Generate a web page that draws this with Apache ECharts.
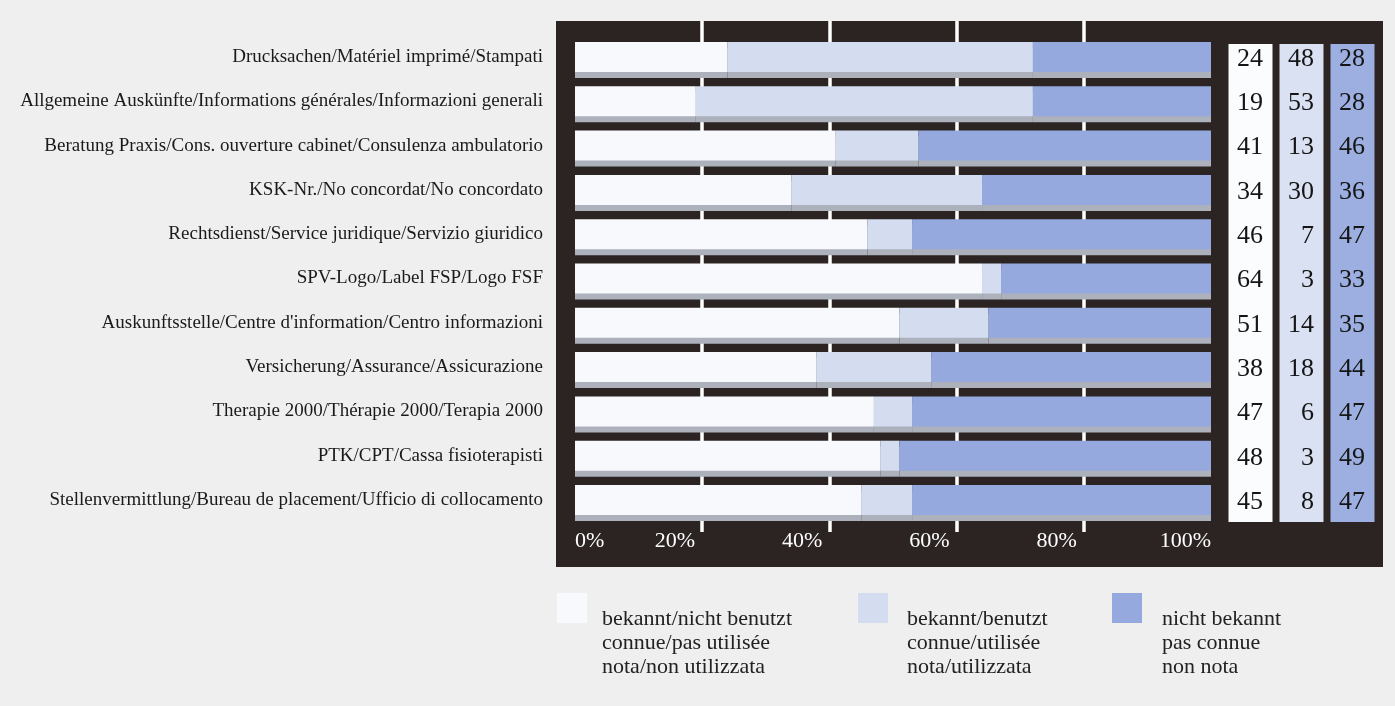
<!DOCTYPE html>
<html>
<head>
<meta charset="utf-8">
<script src="https://cdn.jsdelivr.net/npm/echarts@6/dist/echarts.min.js"></script>
<style>
html,body{margin:0;padding:0;background:#efefef;}
#chart{width:1395px;height:706px;}
</style>
</head>
<body>
<div id="chart"></div>
<script>
const categories = [
  'Drucksachen/Matériel imprimé/Stampati',
  'Allgemeine Auskünfte/Informations générales/Informazioni generali',
  'Beratung Praxis/Cons. ouverture cabinet/Consulenza ambulatorio',
  'KSK-Nr./No concordat/No concordato',
  'Rechtsdienst/Service juridique/Servizio giuridico',
  'SPV-Logo/Label FSP/Logo FSF',
  "Auskunftsstelle/Centre d'information/Centro informazioni",
  'Versicherung/Assurance/Assicurazione',
  'Therapie 2000/Thérapie 2000/Terapia 2000',
  'PTK/CPT/Cassa fisioterapisti',
  'Stellenvermittlung/Bureau de placement/Ufficio di collocamento'
];
const knownNotUsed = [24, 19, 41, 34, 46, 64, 51, 38, 47, 48, 45];
const knownUsed    = [48, 53, 13, 30, 7, 3, 14, 18, 6, 3, 8];
const notKnown     = [28, 28, 46, 36, 47, 33, 35, 44, 47, 49, 47];
const legendNames = [
  'bekannt/nicht benutzt\nconnue/pas utilisée\nnota/non utilizzata',
  'bekannt/benutzt\nconnue/utilisée\nnota/utilizzata',
  'nicht bekannt\npas connue\nnon nota'
];
const columnKeys = ['c1', 'c2', 'c3'];
const columnFull = [1, 1, 1];

const serif = '"Liberation Serif", "DejaVu Serif", serif';
const barColors = ['#f7f9fd', '#d4dcf0', '#95a9de'];
const colColors = ['#fbfcfe', '#d9e1f2', '#9cafe0'];

const chart = echarts.init(document.getElementById('chart'), null, {renderer: 'canvas'});

const seriesValues = [knownNotUsed, knownUsed, notKnown];
const numberData = [];
seriesValues.forEach((arr, c) => arr.forEach((v, i) => numberData.push([c + 1, i, v])));

const barSeries = seriesValues.map((arr, k) => ({
  type: 'bar',
  name: legendNames[k],
  stack: 'total',
  xAxisIndex: 0,
  yAxisIndex: 0,
  barWidth: 30,
  data: arr,
  itemStyle: {
    color: barColors[k],
    shadowColor: '#adb1bc',
    shadowOffsetY: 6,
    shadowOffsetX: 0,
    shadowBlur: 0
  },
  z: 5
}));

function legendAt(k, left, padLeft) {
  return {
    data: [legendNames[k]],
    left: left,
    top: 567,
    padding: 0,
    orient: 'vertical',
    icon: 'rect',
    itemWidth: 30,
    itemHeight: 30,
    selectedMode: false,
    itemStyle: {shadowColor: 'rgba(0,0,0,0)', shadowOffsetY: 0, shadowBlur: 0},
    formatter: name => '{s| }\n' + name.split('\n').map(l => '{t|' + l + '}').join('\n'),
    textStyle: {
      fontFamily: serif,
      fontSize: 22,
      color: '#222',
      padding: [0, 0, 0, padLeft],
      rich: {
        s: {lineHeight: 70, fontSize: 10},
        t: {lineHeight: 24, fontSize: 22, fontFamily: serif, color: '#222'}
      }
    }
  };
}

const option = {
  animation: false,
  backgroundColor: '#efefef',
  graphic: [{
    type: 'rect',
    z: -100,
    shape: {x: 556, y: 21, width: 827, height: 546},
    style: {fill: '#2b2422'},
    silent: true
  }],
  legend: [legendAt(0, 557, 10), legendAt(1, 858, 14), legendAt(2, 1112, 15)],
  grid: [
    {left: 575, right: 184, top: 34.85, bottom: 183.85},
    {left: 575, right: 184, top: 21, bottom: 174},
    {left: 1225, width: 153, top: 44, bottom: 184},
    {left: 1225, width: 153, top: 34.85, bottom: 183.85}
  ],
  xAxis: [
    {
      gridIndex: 0, type: 'value', min: 0, max: 100, interval: 20,
      axisLine: {show: false}, axisTick: {show: false}, splitLine: {show: false},
      axisLabel: {
        formatter: v => (v === 100 ? '{e|' + v + '%}' : '{n|' + v + '%}'),
        color: '#ffffff', fontFamily: serif, fontSize: 22,
        margin: 8, align: 'right', alignMinLabel: 'left',
        rich: {
          n: {color: '#ffffff', fontFamily: serif, fontSize: 22, padding: [0, 7, 0, 0]},
          e: {color: '#ffffff', fontFamily: serif, fontSize: 22}
        }
      }
    },
    {
      gridIndex: 1, type: 'value', min: 0, max: 100, interval: 20,
      axisLine: {show: false}, axisTick: {show: false}, axisLabel: {show: false},
      splitLine: {show: true, showMinLine: false, showMaxLine: false, lineStyle: {color: '#ffffff', width: 3.5}}
    },
    {
      gridIndex: 2, type: 'category', data: columnKeys, show: false
    },
    {
      gridIndex: 3, type: 'value', min: 0, max: 3, show: false
    }
  ],
  yAxis: [
    {
      gridIndex: 0, type: 'category', data: categories, inverse: true,
      axisLine: {show: false}, axisTick: {show: false},
      axisLabel: {color: '#1a1a1a', fontFamily: serif, fontSize: 19, margin: 32, padding: [5, 0, 0, 0]}
    },
    {gridIndex: 1, type: 'value', min: 0, max: 1, show: false},
    {gridIndex: 2, type: 'value', min: 0, max: 1, show: false},
    {gridIndex: 3, type: 'category', data: categories, inverse: true, show: false}
  ],
  series: [
    ...barSeries,
    {
      type: 'bar',
      name: 'columns',
      xAxisIndex: 2,
      yAxisIndex: 2,
      barWidth: 44,
      silent: true,
      data: columnFull.map((v, c) => ({value: v, itemStyle: {color: colColors[c]}})),
      z: 3
    },
    {
      type: 'scatter',
      name: 'numbers',
      xAxisIndex: 3,
      yAxisIndex: 3,
      symbolSize: 0,
      silent: true,
      itemStyle: {opacity: 1},
      data: numberData,
      label: {
        show: true,
        position: 'left',
        distance: 13,
        offset: [0, 2],
        formatter: p => String(p.value[2]),
        fontFamily: serif,
        fontSize: 26,
        color: '#151515',
        opacity: 1
      },
      z: 6
    }
  ]
};
chart.setOption(option);
</script>
</body>
</html>
